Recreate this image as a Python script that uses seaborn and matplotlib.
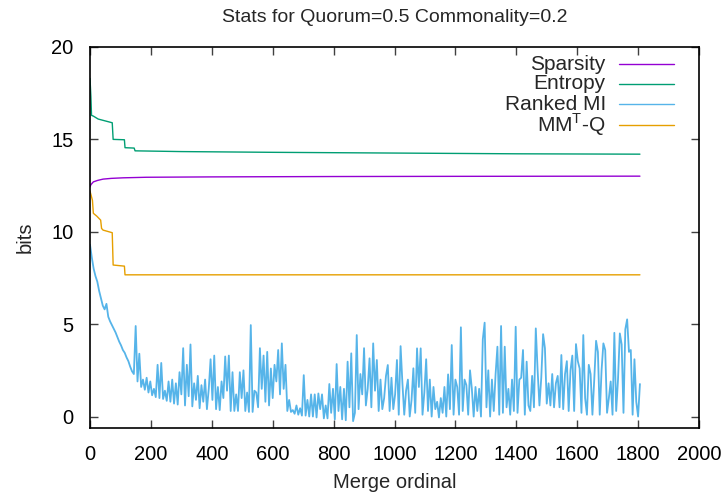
import numpy as np
import pandas as pd
import seaborn as sns
import matplotlib
matplotlib.use("Agg")
import matplotlib.pyplot as plt

# Series knots
sparsity_x = [0, 3, 11, 25, 43, 70, 109, 185, 400, 800, 1200, 1806]
sparsity_y = [12.43, 12.55, 12.7, 12.78, 12.85, 12.89, 12.92, 12.95, 12.97, 12.99, 13.0, 13.01]

entropy_x = [0, 3, 5, 11, 27, 73, 76, 113, 115, 145, 148, 300, 600, 1000, 1400, 1806]
entropy_y = [18.3, 17.3, 16.3, 16.26, 16.1, 15.9, 15.0, 14.98, 14.55, 14.53, 14.38, 14.34, 14.3, 14.26, 14.22, 14.2]

mmtq_x = [0, 8, 11, 22, 35, 38, 43, 73, 76, 113, 115, 400, 1000, 1806]
mmtq_y = [12.2, 11.7, 11.0, 10.85, 10.63, 10.18, 10.09, 9.95, 8.2, 8.14, 7.67, 7.67, 7.67, 7.67]

# Ranked MI, one value every 6 merges (0 .. 1806)
ranked_mi = [
    9.3, 8.6, 8.0, 7.6, 7.3, 6.8, 6.4, 6.0, 5.8, 6.1, 5.4, 5.15, 4.95, 4.75, 4.55, 4.3,
    4.05, 3.85, 3.6, 3.45, 3.2, 3.0, 2.7, 2.45, 2.3, 4.9, 1.9, 3.4, 1.6, 2.0, 1.45, 2.1,
    1.3, 1.9, 1.15, 1.5, 1.05, 2.8, 1.0, 2.9, 0.95, 1.4, 0.85, 1.9, 0.8, 2.0, 0.7, 1.8,
    0.65, 2.4, 1.2, 3.7, 0.6, 2.8, 1.1, 3.9, 0.55, 1.8, 0.9, 2.2, 0.45, 1.7, 0.8, 2.0,
    0.4, 1.5, 3.1, 0.9, 3.3, 0.4, 1.6, 0.35, 1.9, 1.0, 3.25, 1.4, 3.3, 0.3, 2.4, 0.3,
    1.2, 0.3, 2.4, 1.0, 2.5, 0.3, 1.3, 0.25, 4.95, 0.25, 1.4, 1.3, 0.5, 3.7, 1.5, 3.3,
    0.8, 3.5, 0.6, 2.6, 1.0, 2.8, 1.9, 3.6, 1.2, 3.96, 1.5, 2.8, 0.3, 0.9, 0.25, 0.35,
    0.15, 0.6, 0.1, 0.45, 0.05, 2.24, 0.05, 0.9, 0.0, 1.2, 0.0, 1.2, -0.05, 1.25, 0.4, 1.2,
    -0.1, 0.6, -0.1, 1.76, 0.2, 1.5, -0.15, 2.84, 0.3, 1.6, -0.15, 1.5, -0.2, 2.97, 0.5, 3.42,
    -0.25, 0.2, 4.41, 0.4, 2.3, 1.2, 3.7, 0.6, 1.5, 3.15, 0.5, 3.96, 1.4, 3.06, 0.3, 2.0,
    0.4, 1.0, 2.2, 2.79, 0.3, 2.1, 0.4, 1.2, 3.06, 0.1, 3.81, 1.8, 0.1, 1.4, 2.0, 0.0,
    0.9, 2.61, 0.2, 3.69, 1.6, 3.69, 0.1, 1.3, 3.1, 0.3, 2.0, 0.0, 1.6, 0.4, 0.8, -0.05,
    1.0, 0.2, 1.6, 0.0, 2.28, 0.4, 3.87, 0.1, 2.0, 1.6, 0.1, 4.83, 0.3, 2.0, 1.7, 0.1,
    2.5, 1.5, 0.0, 1.6, 0.3, 1.5, 0.0, 4.18, 5.08, 0.5, 2.5, 0.0, 2.0, 0.3, 2.3, 3.78,
    0.1, 4.9, 0.2, 3.78, 0.5, 1.5, 0.1, 2.0, 0.3, 4.86, 0.2, 2.0, 2.1, 3.6, 0.1, 2.97,
    0.6, 0.3, 2.2, 0.5, 4.77, 2.5, 0.6, 2.1, 4.46, 3.7, 0.7, 1.8, 0.6, 2.3, 0.5, 1.8,
    2.2, 0.5, 3.33, 0.4, 2.3, 3.0, 0.3, 2.5, 3.3, 0.3, 3.92, 3.0, 2.6, 0.2, 4.41, 1.0,
    0.1, 2.8, 2.3, 0.1, 2.0, 4.1, 3.5, 0.1, 2.5, 3.96, 3.6, 0.2, 1.0, 1.9, 0.1, 4.53,
    0.3, 2.0, 4.5, 3.9, 0.2, 4.72, 5.26, 3.5, 3.6, 0.1, 3.1, 0.8, 0.0, 1.76,
]
ranked_x = np.arange(len(ranked_mi)) * 6

labels = ["Sparsity", "Entropy", "Ranked MI", r"MM$^{\mathrm{T}}$-Q"]
colors = ["#9400d3", "#009e73", "#56b4e9", "#e69f00"]

sns.set_theme(style="ticks")
plt.rcParams["font.family"] = ["Liberation Sans", "DejaVu Sans"]
plt.rcParams["mathtext.fontset"] = "custom"
plt.rcParams["mathtext.rm"] = "Liberation Sans"

fig = plt.figure(figsize=(7.26, 4.97), dpi=100)
ax = fig.add_axes([90 / 726, 69 / 497, 609 / 726, 381 / 497])

series = [
    (sparsity_x, sparsity_y, 1.0),
    (entropy_x, entropy_y, 1.0),
    (ranked_x, ranked_mi, 1.3),
    (mmtq_x, mmtq_y, 1.0),
]
for (xs, ys, w), c in zip(series, colors):
    df = pd.DataFrame({"x": xs, "y": ys})
    sns.lineplot(data=df, x="x", y="y", color=c, lw=w, sort=False,
                 estimator=None, ax=ax)

ax.set_xlim(0, 2000)
ax.set_ylim(-0.62, 20)
ax.set_xticks(range(0, 2001, 200))
ax.set_yticks([0, 5, 10, 15, 20])
ax.tick_params(direction="in", length=6, width=1, colors="#404040",
               labelcolor="black", labelsize=14.5, top=True, right=True)
ax.tick_params(axis="x", pad=12)
ax.tick_params(axis="y", pad=12)
for s in ax.spines.values():
    s.set_color("black")
    s.set_linewidth(1.2)

ax.set_xlabel("Merge ordinal", fontsize=14.5, labelpad=7)
ax.set_ylabel("bits", fontsize=14.5, labelpad=12)
ax.set_title("Stats for Quorum=0.5 Commonality=0.2", fontsize=14, pad=18)

# gnuplot-style key: right-justified labels, sample line to the right
key_y = [0.955, 0.903, 0.850, 0.795]
for lab, c, ky in zip(labels, colors, key_y):
    ax.text(0.847, ky, lab, transform=ax.transAxes, ha="right", va="center",
            fontsize=15)
    ax.plot([0.869, 0.959], [ky, ky], transform=ax.transAxes, color=c, lw=1.0)

fig.savefig("out.png", dpi=100)
